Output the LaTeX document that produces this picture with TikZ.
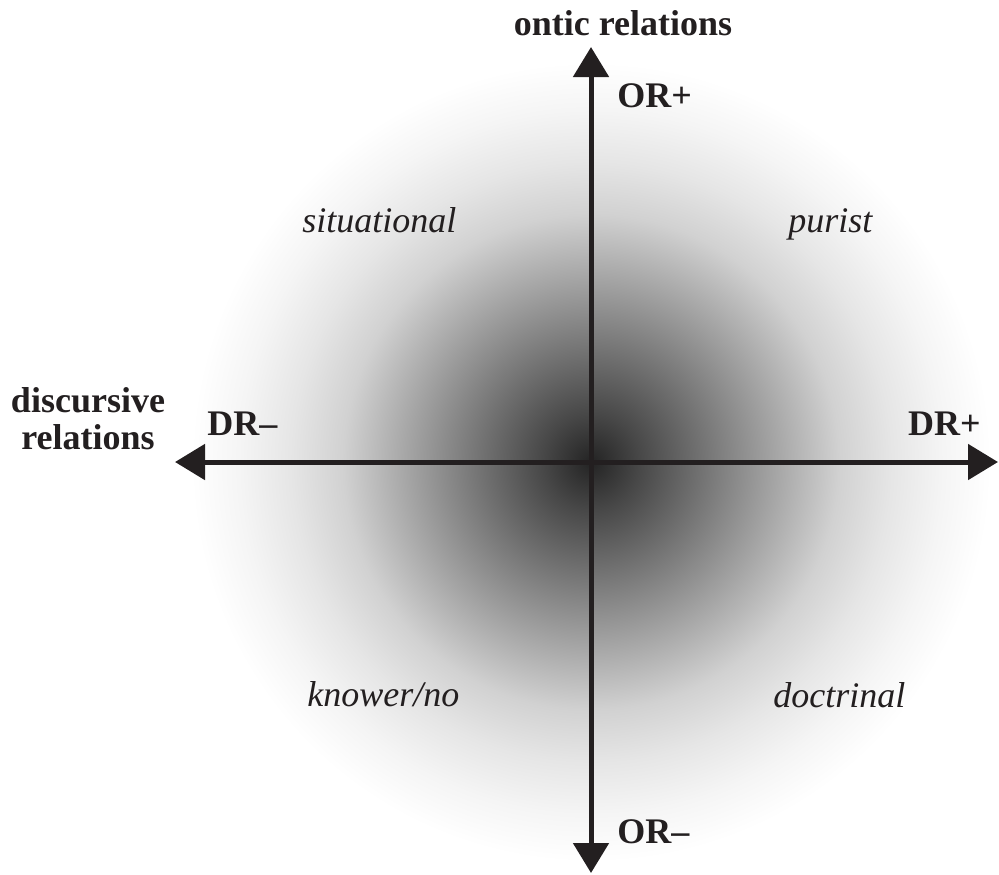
\documentclass[tikz,border=0pt]{standalone}
\usepackage{fontspec}
\setmainfont{Liberation Serif}
\usetikzlibrary{arrows.meta}
\definecolor{ink}{HTML}{231F20}
\pgfdeclareradialshading{glow}{\pgfpoint{0bp}{0bp}}{color(0bp)=(black!86); color(3bp)=(black!72); color(6.25bp)=(black!58); color(12.5bp)=(black!31); color(15.5bp)=(black!18); color(18.75bp)=(black!10); color(22bp)=(black!4); color(25bp)=(white); color(50bp)=(white)}
\tikzset{
  axis/.style={line width=2.5pt, draw=ink,
               {Triangle[length=15pt,width=17.5pt]}-{Triangle[length=15pt,width=17.5pt]}},
  pole/.style={font=\fontsize{18}{18.5}\selectfont\bfseries, text=ink, inner sep=0pt},
  quad/.style={font=\fontsize{18}{18.5}\selectfont\itshape, text=ink, inner sep=0pt},
}

\begin{document}
\begin{tikzpicture}[x=0.5pt, y=-0.5pt]
\useasboundingbox (0,0) rectangle (999,874);
\coordinate (o) at (591,462);
\shade[shading=glow] (o) circle[radius=200pt];
\coordinate (top) at (591,47);
\coordinate (bot) at (591,873);
\coordinate (lft) at (175,462);
\coordinate (rgt) at (998,462);
\draw[axis] (top) -- (bot);
\draw[axis] (lft) -- (rgt);
\node[pole, anchor=base] (ontic) at (623,35) {ontic relations};
\node[pole, anchor=base west] (orp) at (617,107) {OR+};
\node[pole, anchor=base west] (orm) at (617,843) {OR–};
\node[pole, anchor=base west] (drm) at (207,435) {DR–};
\node[pole, anchor=base east] (drp) at (981,435) {DR+};
\node[pole, align=center, anchor=base] (disc) at (88,449) {discursive\\relations};
\node[quad, anchor=base west] (sit) at (302,232) {situational};
\node[quad, anchor=base west] (pur) at (788,232) {purist};
\node[quad, anchor=base west] (kno) at (307,706) {knower/no};
\node[quad, anchor=base west] (doc) at (773,707) {doctrinal};
\end{tikzpicture}
\end{document}
